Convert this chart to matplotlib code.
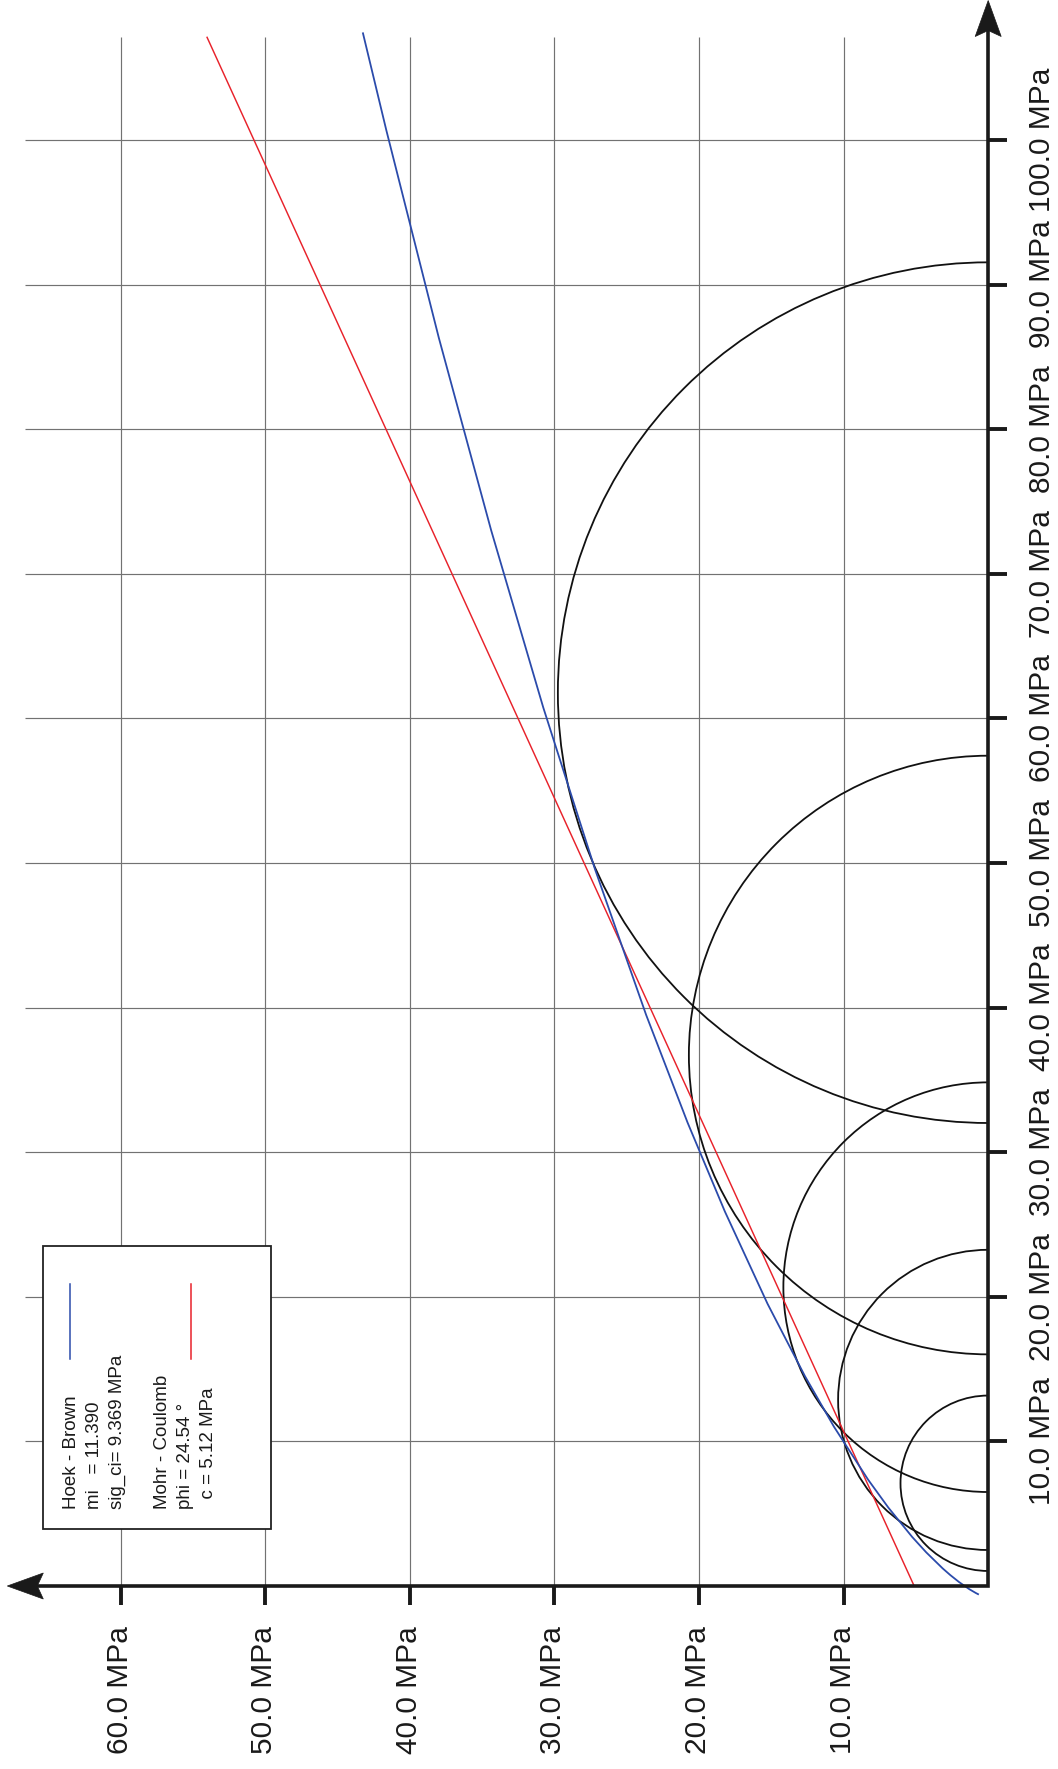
import matplotlib
matplotlib.use('Agg')
import matplotlib.pyplot as plt
from matplotlib.patches import Arc, Polygon, Rectangle

plt.rcParams['font.family'] = ['Liberation Sans', 'DejaVu Sans']

# ---------------- data ----------------
# Mohr circles from triaxial tests (minor / major principal stress, MPa)
sigma3 = [1.04, 2.49, 6.50, 16.02, 32.02]
sigma1 = [13.17, 23.25, 34.83, 57.42, 91.54]

# Hoek-Brown envelope (normal stress, shear stress) in MPa
hb_sigma = [-0.564, -0.484, -0.224, 0.275, 0.754, 1.218, 2.330, 3.394, 5.420,
            7.351, 11.020, 14.511, 19.519, 25.902, 32.047, 39.487, 49.571,
            60.752, 73.006, 86.319, 100.677, 107.379]
hb_tau = [0.702, 0.857, 1.301, 2.019, 2.620, 3.150, 4.289, 5.259, 6.904,
          8.304, 10.669, 12.672, 15.261, 18.212, 20.790, 23.653, 27.192,
          30.770, 34.373, 37.993, 41.624, 43.238]

# Mohr-Coulomb line
mc_sigma = [0.0, 107.1]
mc_tau = [5.12, 54.02]

sigma_ticks = [10, 20, 30, 40, 50, 60, 70, 80, 90, 100]
sigma_labels = ["10.0 MPa", "20.0 MPa", "30.0 MPa", "40.0 MPa", "50.0 MPa",
                "60.0 MPa", "70.0 MPa", "80.0 MPa", "90.0 MPa", "100.0 MPa"]
tau_ticks = [10, 20, 30, 40, 50, 60]
tau_labels = ["10.0 MPa", "20.0 MPa", "30.0 MPa", "40.0 MPa", "50.0 MPa",
              "60.0 MPa"]

legend_hb = ["Hoek - Brown", "mi   = 11.390", "sig_ci= 9.369 MPa"]
legend_mc = ["Mohr - Coulomb", "phi = 24.54 °", "  c = 5.12 MPa"]

BLUE = '#2b4bab'
RED = '#e8222b'
INK = '#1a1a1a'
GRID = '#727272'

# ---------------- layout ----------------
W, H = 1058, 1769
X0, Y0, S = 988.2, 1586.0, 14.46   # origin pixel and pixels per MPa
PX = 1.0 / S


def tx(px):
    return (X0 - px) / S


def sy(py):
    return (Y0 - py) / S


fig = plt.figure(figsize=(W / 100, H / 100), dpi=100)
ax = fig.add_axes([0, 0, 1, 1])
ax.set_xlim(tx(0), tx(W))
ax.set_ylim(sy(H), sy(0))
ax.axis('off')

# grid
for s in sigma_ticks:
    ax.plot([0, tx(25)], [s, s], color=GRID, lw=0.85, zorder=1,
            solid_capstyle='butt')
for t in tau_ticks:
    ax.plot([t, t], [0, sy(37.3)], color=GRID, lw=0.85, zorder=1,
            solid_capstyle='butt')

# Mohr circles
for s3, s1 in zip(sigma3, sigma1):
    c = (s1 + s3) / 2.0
    d = s1 - s3
    ax.add_patch(Arc((0, c), d, d, theta1=-90, theta2=90, color='#111111',
                     lw=1.3, zorder=2))

# envelopes
ax.plot(mc_tau, mc_sigma, color=RED, lw=1.05, zorder=3)
ax.plot(hb_tau, hb_sigma, color=BLUE, lw=1.3, zorder=3)

# axes
tau_tip = tx(7.3)
sig_tip = sy(0.5)
ax.plot([tau_tip - 30 * PX, 0, 0], [0, 0, sig_tip - 30 * PX], color=INK,
        lw=2.6, solid_joinstyle='miter', solid_capstyle='butt', zorder=4)
ax.add_patch(Polygon([(0, sig_tip), (13 * PX, sig_tip - 36 * PX),
                      (0, sig_tip - 30 * PX), (-13 * PX, sig_tip - 36 * PX)],
                     closed=True, facecolor=INK, edgecolor=INK, lw=0.5,
                     zorder=4))
ax.add_patch(Polygon([(tau_tip, 0), (tau_tip - 36 * PX, 13 * PX),
                      (tau_tip - 30 * PX, 0), (tau_tip - 36 * PX, -13 * PX)],
                     closed=True, facecolor=INK, edgecolor=INK, lw=0.5,
                     zorder=4))

# ticks and labels
for s, lab in zip(sigma_ticks, sigma_labels):
    ax.plot([0, -19 * PX], [s, s], color=INK, lw=2.8, solid_capstyle='butt',
            zorder=4)
    ax.text(tx(1050), s, lab, rotation=90, rotation_mode='anchor',
            ha='center', va='baseline', fontsize=21.5, color=INK)
for t, lab in zip(tau_ticks, tau_labels):
    ax.plot([t, t], [0, -19 * PX], color=INK, lw=2.8, solid_capstyle='butt',
            zorder=4)
    ax.text(t - 7 * PX, sy(1626), lab, rotation=90, rotation_mode='anchor',
            ha='right', va='baseline', fontsize=21.5, color=INK)

# legend box
ax.add_patch(Rectangle((tx(270.7), sy(1529)), (270.7 - 43.3) * PX,
                       (1529 - 1246) * PX, facecolor='white',
                       edgecolor='#222222', lw=1.3, zorder=5))
ax.plot([tx(70), tx(70)], [sy(1284), sy(1359)], color=BLUE, lw=1.1, zorder=6)
ax.plot([tx(191), tx(191)], [sy(1284), sy(1359)], color=RED, lw=1.1, zorder=6)
for bx, line in zip([75.5, 98.5, 121.5], legend_hb):
    ax.text(tx(bx), sy(1509.3), line, rotation=90, rotation_mode='anchor',
            ha='left', va='baseline', fontsize=13.5, color=INK, zorder=6)
for bx, line in zip([167, 190, 213], legend_mc):
    ax.text(tx(bx), sy(1509.3), line, rotation=90, rotation_mode='anchor',
            ha='left', va='baseline', fontsize=13.5, color=INK, zorder=6)

fig.savefig('out.png', dpi=100)
